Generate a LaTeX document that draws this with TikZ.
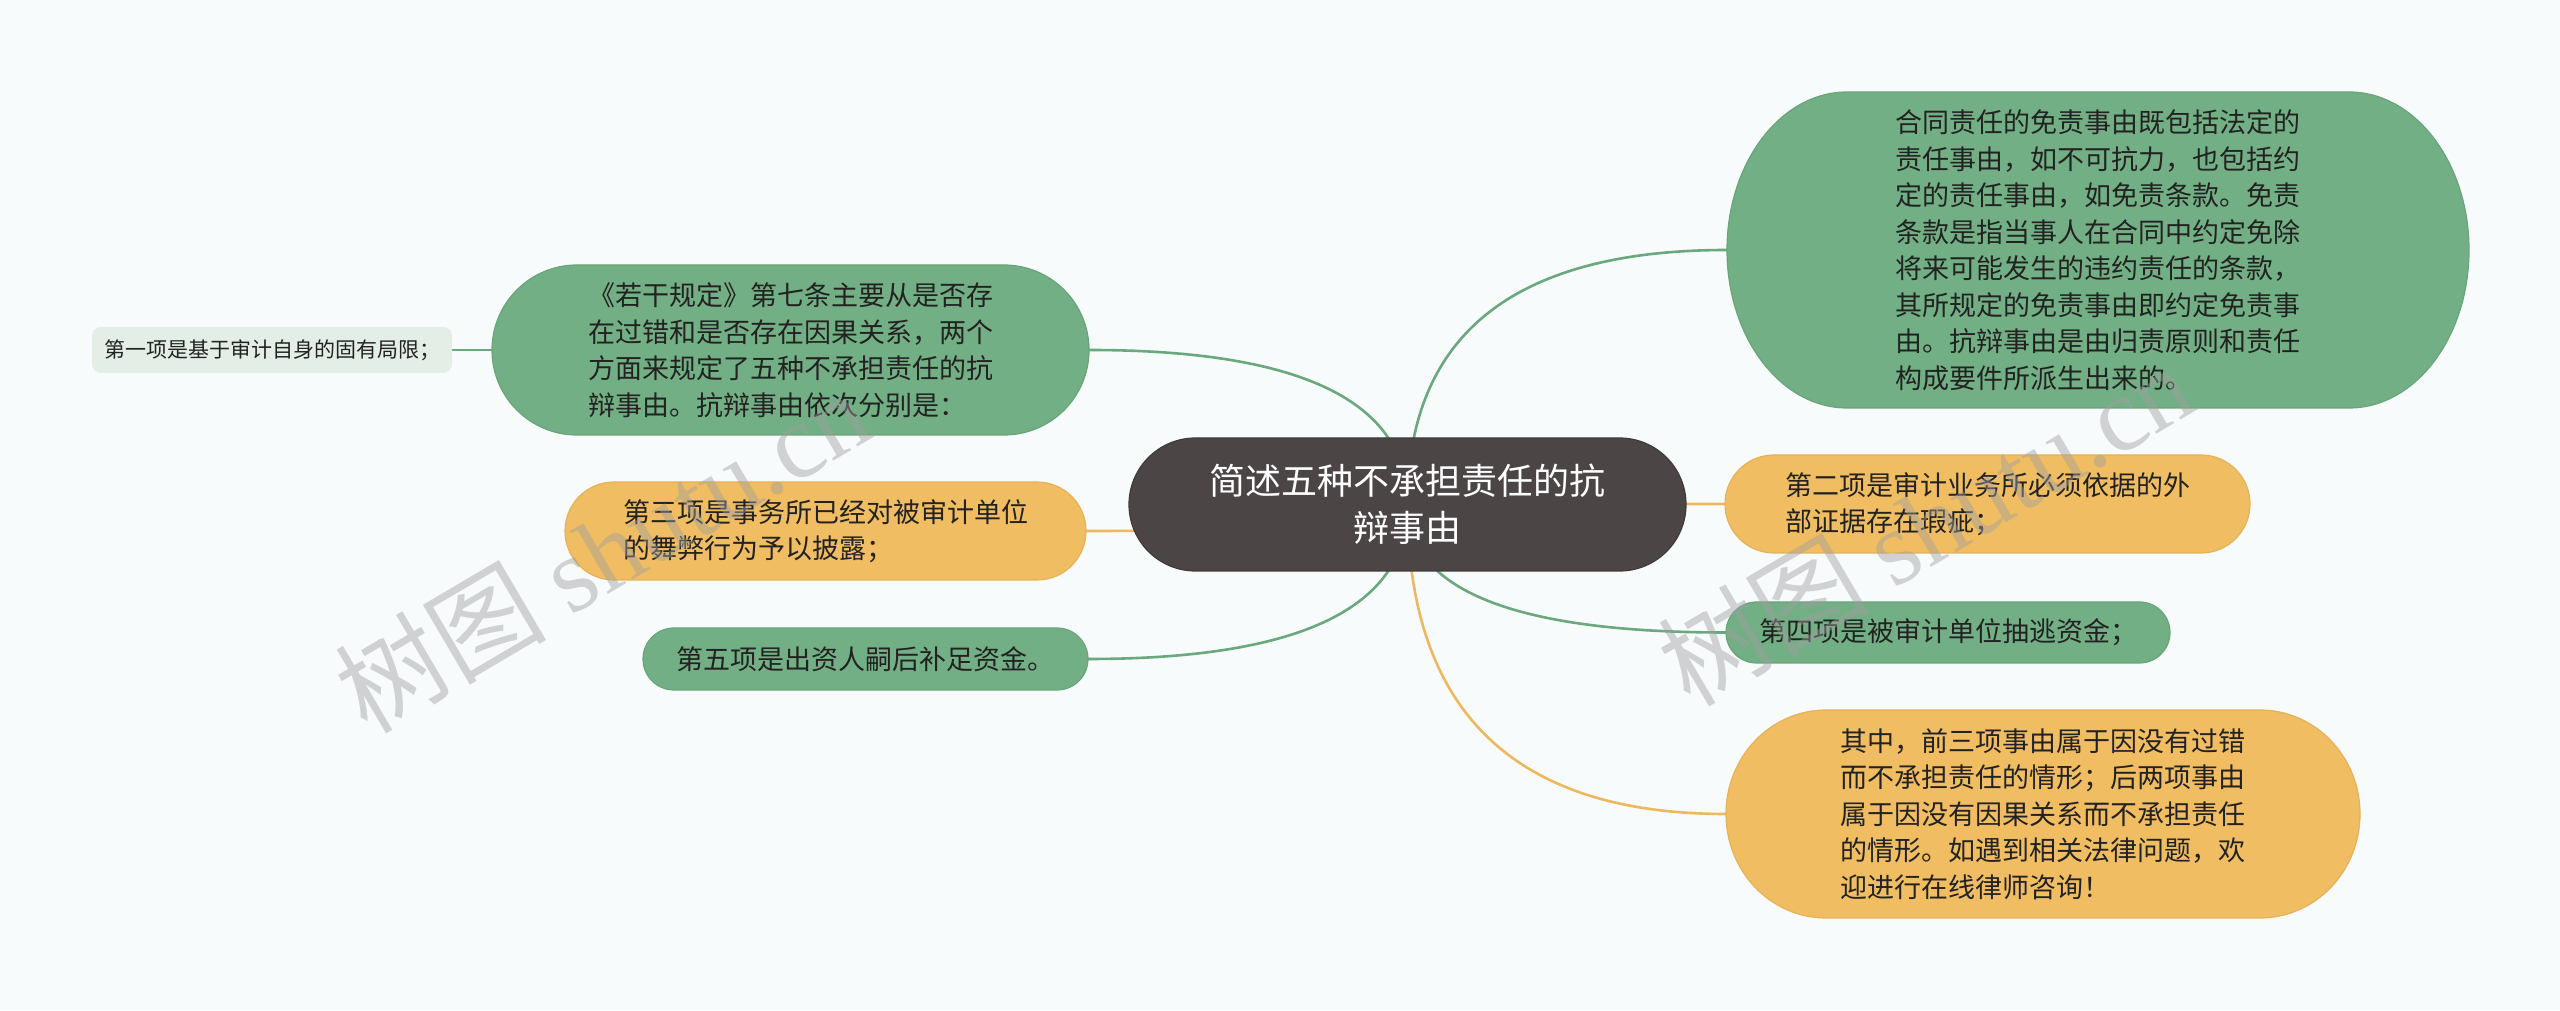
\documentclass[tikz,border=0pt]{standalone}
\usepackage{fontspec}
\setmainfont{Noto Sans CJK SC}
\newfontfamily\wmlat{Liberation Serif}
\usetikzlibrary{calc}
\pgfdeclarelayer{back}
\pgfdeclarelayer{conns}
\pgfsetlayers{back,conns,main}
\definecolor{bgcol}{HTML}{F8FBFC}
\definecolor{gfill}{HTML}{73AF84}
\definecolor{gline}{HTML}{6AA87E}
\definecolor{gedge}{HTML}{68A57A}
\definecolor{ofill}{HTML}{F0BD62}
\definecolor{oline}{HTML}{EDB85E}
\definecolor{oedge}{HTML}{E6B257}
\definecolor{rootfill}{HTML}{4B4546}
\definecolor{lightfill}{HTML}{E3EFE6}
\definecolor{txt}{HTML}{222222}
\tikzset{
  gshape/.style={fill=gfill,draw=gedge,line width=1.2pt},
  oshape/.style={fill=ofill,draw=oedge,line width=1.2pt},
  rshape/.style={fill=rootfill,draw=rootfill!85!black,line width=1.2pt},
  ctext/.style={inner sep=0pt,align=left,text=txt,font=\fontsize{27}{36.5}\selectfont},
  roottext/.style={inner sep=0pt,align=center,text=white,font=\fontsize{36}{47}\selectfont},
  smalltext/.style={inner sep=0pt,align=left,text=txt,font=\fontsize{21}{28}\selectfont},
  conn/.style={line width=2.6pt},
  wm/.style={text=gray!75,opacity=0.45,inner sep=0pt,font=\fontsize{106}{110}\selectfont}
}
\newcommand\stad[6]{%
  \path[#6] ({#1-#3/2+#5},{#2+#4/2}) -- ({#1+#3/2-#5},{#2+#4/2})
    arc[start angle=90,end angle=-90,x radius=#5,y radius=#4/2]
    -- ({#1-#3/2+#5},{#2-#4/2})
    arc[start angle=270,end angle=90,x radius=#5,y radius=#4/2] -- cycle;
}
\newcommand\mindnode[9]{%
  \stad{#2}{#3}{#4}{#5}{#6}{#7}
  \node[#8,minimum width=#4pt,minimum height=#5pt] (#1) at (#2,#3) {#9};
}
\newcommand\rootconn[3]{%
  \draw[conn,#3] (root.center)
    .. controls ($(root.center)!0.6667!(root.center |- #1.#2)$)
    and ($(#1.#2)!0.6667!(root.center |- #1.#2)$) .. (#1.#2);
}
\begin{document}
\begin{tikzpicture}[x=1pt,y=1pt]
\begin{pgfonlayer}{back}
  \fill[bgcol] (0,0) rectangle (2560,1010);
\end{pgfonlayer}
\useasboundingbox (0,0) rectangle (2560,1010);

% root
\mindnode{root}{1407.5}{505.5}{557}{133}{66.5}{rshape}{roottext}{简述五种不承担责任的抗\\辩事由}

% right side
\mindnode{rt}{2098}{760}{742}{316}{120}{gshape}{ctext}{合同责任的免责事由既包括法定的\\责任事由，如不可抗力，也包括约\\定的责任事由，如免责条款。免责\\条款是指当事人在合同中约定免除\\将来可能发生的违约责任的条款，\\其所规定的免责事由即约定免责事\\由。抗辩事由是由归责原则和责任\\构成要件所派生出来的。}
\mindnode{rtwo}{1987.5}{506}{525}{98}{49}{oshape}{ctext}{第二项是审计业务所必须依据的外\\部证据存在瑕疵；}
\mindnode{rfour}{1948}{377.5}{444}{61}{30.5}{gshape}{ctext}{第四项是被审计单位抽逃资金；}
\mindnode{rfive}{2043}{196}{634}{208}{100}{oshape}{ctext}{其中，前三项事由属于因没有过错\\而不承担责任的情形；后两项事由\\属于因没有因果关系而不承担责任\\的情形。如遇到相关法律问题，欢\\迎进行在线律师咨询！}

% left side
\mindnode{lone}{790.5}{660}{597}{170}{85}{gshape}{ctext}{《若干规定》第七条主要从是否存\\在过错和是否存在因果关系，两个\\方面来规定了五种不承担责任的抗\\辩事由。抗辩事由依次分别是：}
\path[fill=lightfill,rounded corners=9pt] (92,637) rectangle (452,683);
\node[smalltext,minimum width=360pt,minimum height=46pt] (lonea) at (272,660) {第一项是基于审计自身的固有局限；};
\mindnode{ltwo}{825.5}{479}{521}{98}{49}{oshape}{ctext}{第三项是事务所已经对被审计单位\\的舞弊行为予以披露；}
\mindnode{lthree}{865.5}{351}{445}{62}{31}{gshape}{ctext}{第五项是出资人嗣后补足资金。}

% connectors
\begin{pgfonlayer}{conns}
  \rootconn{rt}{west}{gline}
  \rootconn{rtwo}{west}{oline}
  \rootconn{rfour}{west}{gline}
  \rootconn{rfive}{west}{oline}
  \rootconn{lone}{east}{gline}
  \rootconn{ltwo}{east}{oline}
  \rootconn{lthree}{east}{gline}
  \draw[conn,gline] (lonea.east) -- (lone.west);
\end{pgfonlayer}

% watermarks
\node[wm,rotate=30.5] (wmone) at (602,459) {树图 {\wmlat shutu.cn}};
\node[wm,rotate=30.5] (wmtwo) at (1925,486) {树图 {\wmlat shutu.cn}};
\end{tikzpicture}
\end{document}
